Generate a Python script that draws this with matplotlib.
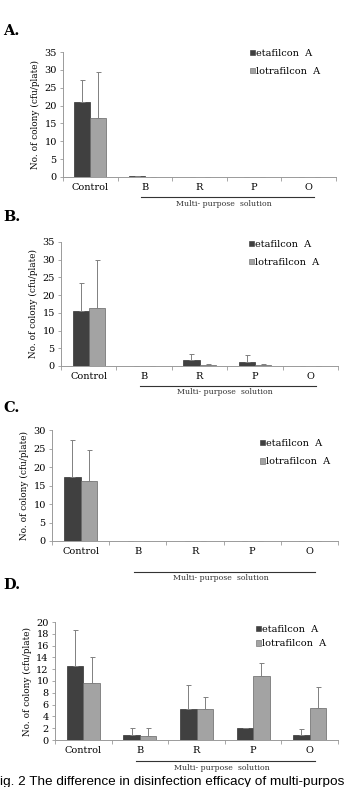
import matplotlib
matplotlib.use("Agg")
import matplotlib.pyplot as plt
import matplotlib.transforms as mtransforms
from matplotlib.patches import Patch
from matplotlib.lines import Line2D
import numpy as np

# Данные
categories = ["Control", "B", "R", "P", "O"]
series_names = ["etafilcon  A", "lotrafilcon  A"]
panel_labels = ["A.", "B.", "C.", "D."]

eta_A = [21.0, 0.2, 0, 0, 0]
eta_A_err = [6.3, 0.15, 0, 0, 0]
lotra_A = [16.5, 0, 0, 0, 0]
lotra_A_err = [13.0, 0, 0, 0, 0]

eta_B = [15.6, 0, 1.6, 1.2, 0]
eta_B_err = [7.9, 0, 1.7, 2.0, 0]
lotra_B = [16.3, 0, 0.2, 0.3, 0]
lotra_B_err = [13.7, 0, 0.3, 0.3, 0]

eta_C = [17.3, 0, 0, 0, 0]
eta_C_err = [9.9, 0, 0, 0, 0]
lotra_C = [16.2, 0, 0, 0, 0]
lotra_C_err = [8.3, 0, 0, 0, 0]

eta_D = [12.6, 0.8, 5.3, 2.0, 0.8]
eta_D_err = [6.1, 1.2, 4.0, 0, 1.0]
lotra_D = [9.6, 0.7, 5.2, 10.8, 5.5]
lotra_D_err = [4.4, 1.3, 2.1, 2.2, 3.4]

caption = "ig. 2 The difference in disinfection efficacy of multi-purpos"

W, H = 344, 787
fig = plt.figure(figsize=(W / 100, H / 100), dpi=100)

def box(x0, x1, ytop, ybot):
    return [x0 / W, 1 - ybot / H, (x1 - x0) / W, (ybot - ytop) / H]

def fx(x):
    return x / W

def fy(y):
    return 1 - y / H

# (оси в пикселях, ymax, шаг, легенда, интервал легенды, данные, отступ линии, подпись)
panels = [
    (box(63, 336, 52, 177), 35, 5, (250, 49), 0.9, (eta_A, eta_A_err, lotra_A, lotra_A_err), 20, (3, 31)),
    (box(61, 338, 242, 366), 35, 5, (249, 240), 0.9, (eta_B, eta_B_err, lotra_B, lotra_B_err), 20, (3, 217)),
    (box(52, 338, 430, 541), 30, 5, (260, 439), 0.95, (eta_C, eta_C_err, lotra_C, lotra_C_err), 31, (3, 408)),
    (box(55, 338, 622, 740), 20, 2, (256, 625), 0.55, (eta_D, eta_D_err, lotra_D, lotra_D_err), 21, (3, 585)),
]

dark = "#404040"
light = "#a3a3a3"
axis_col = "#9a9a9a"
serif = ["DejaVu Serif"]

x = np.arange(len(categories))
w = 0.29

for i, (rect, ymax, step, leg, lsp, data, off, lab) in enumerate(panels):
    eta, eta_err, lotra, lotra_err = data
    ax = fig.add_axes(rect)
    ekw = dict(ecolor="#808080", elinewidth=0.7, capsize=1.8, capthick=0.7)
    ax.bar(x - w / 2, eta, w, color=dark, edgecolor="#333333", linewidth=0.5,
           yerr=[np.zeros(len(eta)), eta_err], error_kw=ekw)
    ax.bar(x + w / 2, lotra, w, color=light, edgecolor="#666666", linewidth=0.5,
           yerr=[np.zeros(len(lotra)), lotra_err], error_kw=ekw)

    ax.set_xlim(-0.5, 4.5)
    ax.set_ylim(0, ymax)
    ax.set_yticks(np.arange(0, ymax + 0.1, step))
    ax.set_xticks(x)
    ax.set_xticklabels(categories, family=serif, fontsize=7)
    ax.set_xticks(np.arange(-0.5, 4.6, 1), minor=True)
    ax.tick_params(axis="x", which="major", length=0, pad=4.5)
    ax.tick_params(axis="x", which="minor", length=3, color=axis_col, width=0.6)
    ax.tick_params(axis="y", length=2.5, color=axis_col, width=0.6, labelsize=7, pad=2)
    for t in ax.get_yticklabels():
        t.set_family(serif)
    for s in ["top", "right"]:
        ax.spines[s].set_visible(False)
    for s in ["left", "bottom"]:
        ax.spines[s].set_color(axis_col)
        ax.spines[s].set_linewidth(0.7)
    ax.set_ylabel("No. of colony (cfu/plate)", family=serif, fontsize=6.4, labelpad=3)

    # линия "Multi-purpose solution"
    hpx = rect[3] * H
    ly = -off / hpx
    tr = mtransforms.blended_transform_factory(ax.transData, ax.transAxes)
    ax.add_line(Line2D([0.93, 4.1], [ly, ly], transform=tr, color="#333333",
                       linewidth=0.8, clip_on=False))
    ax.text(2.45, ly - 2.5 / hpx, "Multi- purpose  solution", transform=tr,
            ha="center", va="top", family=serif, fontsize=5.6, color="#333333")

    handles = [Patch(facecolor=dark, edgecolor="#333333", linewidth=0.4),
               Patch(facecolor=light, edgecolor="#666666", linewidth=0.4)]
    fig.legend(handles, series_names, loc="upper left",
               bbox_to_anchor=(fx(leg[0]), fy(leg[1])), frameon=False,
               prop={"family": serif, "size": 7}, handlelength=0.5,
               handleheight=0.5, handletextpad=0.15, labelspacing=lsp,
               borderpad=0, borderaxespad=0)

    fig.text(fx(lab[0]), fy(lab[1]), panel_labels[i], family=serif,
             fontsize=10.5, fontweight="bold", va="center", ha="left")

fig.text(fx(0), fy(776), caption, family=["Liberation Sans"], fontsize=9.7,
         va="top", ha="left")

fig.savefig("out.png", dpi=100)
